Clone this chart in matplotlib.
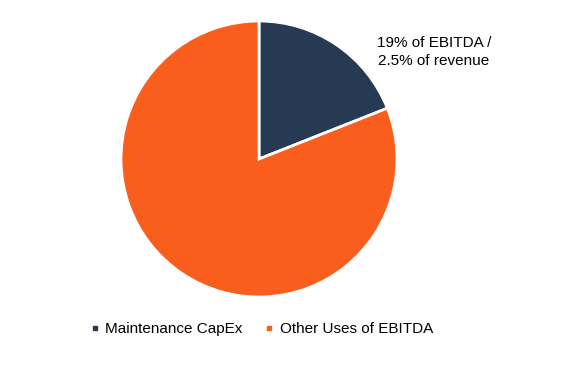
import matplotlib
matplotlib.use("Agg")
from matplotlib import pyplot as plt
from matplotlib.lines import Line2D

plt.rcParams['font.family'] = ['Liberation Sans', 'DejaVu Sans']

labels = ['Maintenance CapEx', 'Other Uses of EBITDA']
shares = [19, 81]
colors = ['#263B53', '#F95E1C']
note = '19% of EBITDA /\n2.5% of revenue'

fig = plt.figure(figsize=(5.68, 3.75), dpi=100)
ax = fig.add_axes([0.213, 0.208, 0.486, 0.736])
ax.pie(shares, colors=colors, startangle=90, counterclock=False,
       wedgeprops=dict(edgecolor='white', linewidth=2))
ax.set_xlim(-1, 1)
ax.set_ylim(-1, 1)
ax.set_aspect('equal')

fig.text(434 / 568, 1 - 52 / 375, note, ha='center', va='center',
         fontsize=11, linespacing=1.4)

handles = [Line2D([], [], ls='none', marker='s', markersize=3.5,
                  markerfacecolor=c, markeredgecolor=c) for c in colors]
fig.legend(handles, labels, loc='center', bbox_to_anchor=(262 / 568, 1 - 329 / 375),
           ncol=2, frameon=False, fontsize=11, handlelength=0.5,
           handletextpad=0.45, columnspacing=1.5)

fig.savefig('out.png', dpi=100)
